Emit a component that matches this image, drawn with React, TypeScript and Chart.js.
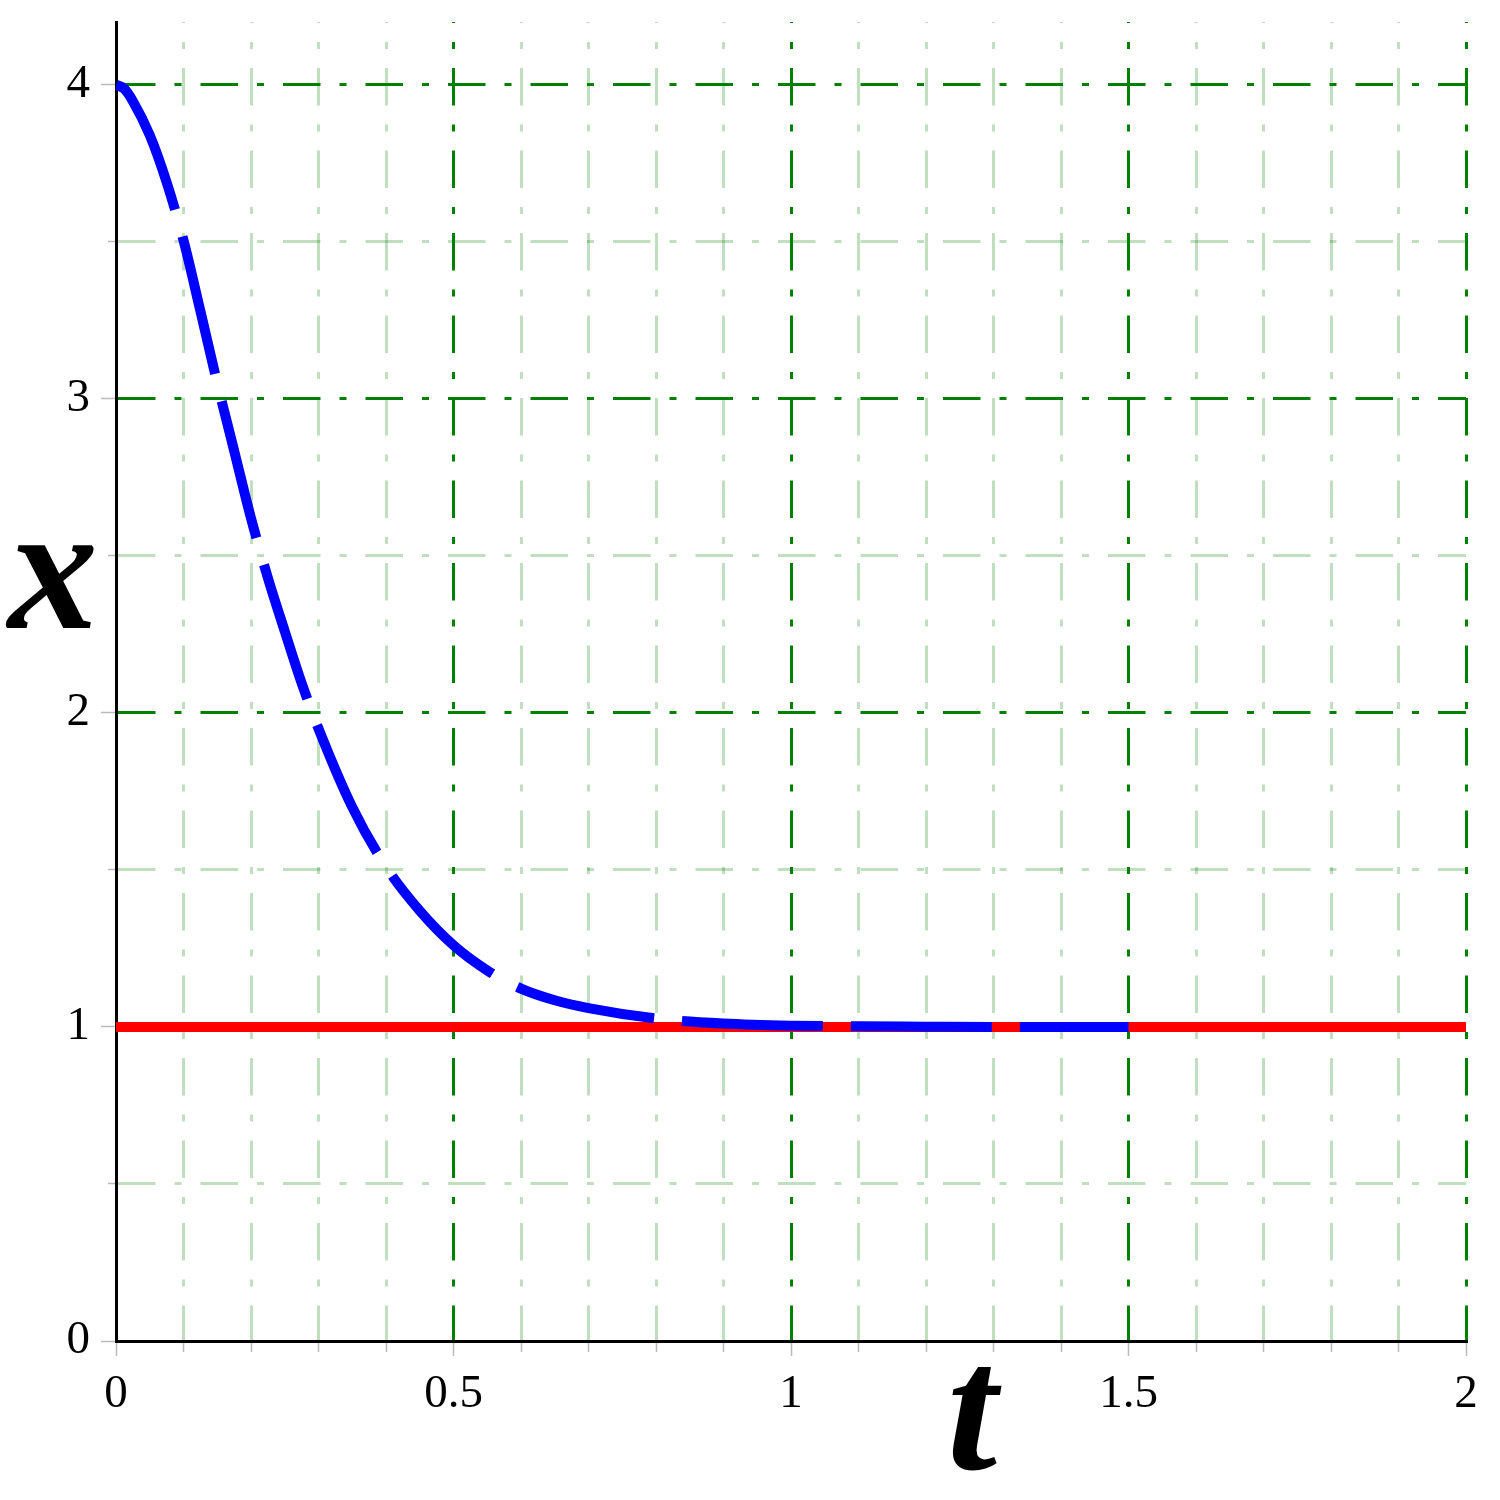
import React, { useEffect, useRef } from "react";
import { Chart, registerables } from "chart.js";

Chart.register(...registerables);

// ---- data ----
const tSolution = [0, 0.0125, 0.025, 0.05, 0.075, 0.1, 0.125, 0.15, 0.175, 0.2, 0.225, 0.25, 0.275, 0.3, 0.35, 0.4, 0.45, 0.5, 0.55, 0.6, 0.65, 0.7, 0.8, 0.9, 1.0, 1.1, 1.2, 1.3, 1.4, 1.5];
const xSolution = [4, 3.987, 3.948, 3.84, 3.69, 3.505, 3.28, 3.05, 2.835, 2.62, 2.43, 2.26, 2.095, 1.95, 1.7, 1.51, 1.37, 1.26, 1.18, 1.122, 1.085, 1.06, 1.027, 1.011, 1.004, 1.002, 1.001, 1.0, 1.0, 1.0];
const tEquilibrium = [0, 2];
const xEquilibrium = [1, 1];

const tMin = 0;
const tMax = 2;
const tMinorStep = 0.1;
const tMajorStep = 0.5;
const xMin = 0;
const xMax = 4.2;
const xMinorStep = 0.5;
const xMajorStep = 1;

const X_TITLE = "t";
const Y_TITLE = "x";

// ---- styles ----
const GREEN = "#008000";
const LIGHT_GREEN = "rgba(0,128,0,0.25)";
const GRID_DASH = [37.5, 19, 7, 19];
const TICK_GRAY = "#bbbbbb";
const FONT = '"Liberation Serif", "Times New Roman", serif';

const isMajor = (v: number, step: number) => Math.abs(v / step - Math.round(v / step)) < 1e-6;

const fmt = (v: number) => String(Math.round(v * 1000) / 1000);

const axisTitles = {
  id: "axisTitles",
  afterDraw(chart: any) {
    const { ctx, chartArea } = chart;
    ctx.save();
    ctx.font = `bold italic 180px ${FONT}`;
    ctx.fillStyle = "#000";
    ctx.textAlign = "center";
    ctx.textBaseline = "alphabetic";
    ctx.fillText(Y_TITLE, chartArea.left - 63, 628);
    ctx.fillText(X_TITLE, 972, chartArea.bottom + 128);
    ctx.restore();
  },
};

export default function App() {
  const ref = useRef<HTMLCanvasElement | null>(null);

  useEffect(() => {
    if (!ref.current) return;
    const chart = new Chart(ref.current, {
      type: "line",
      data: {
        datasets: [
          {
            label: "x(t)",
            data: tSolution.map((t, i) => ({ x: t, y: xSolution[i] })),
            borderColor: "#0000ff",
            borderWidth: 10,
            borderDash: [141, 28],
            borderCapStyle: "butt",
            pointRadius: 0,
            cubicInterpolationMode: "monotone",
            fill: false,
          },
          {
            label: "x = 1",
            data: tEquilibrium.map((t, i) => ({ x: t, y: xEquilibrium[i] })),
            borderColor: "#ff0000",
            borderWidth: 10,
            pointRadius: 0,
            fill: false,
          },
        ],
      },
      options: {
        animation: false,
        responsive: false,
        maintainAspectRatio: false,
        devicePixelRatio: 1,
        layout: { padding: { top: 22, right: 34, left: 0, bottom: 0 } },
        plugins: {
          legend: { display: false },
          tooltip: { enabled: false },
          title: { display: false },
        },
        scales: {
          x: {
            type: "linear",
            min: tMin,
            max: tMax,
            afterFit: (s: any) => {
              s.height = 159;
              s.paddingLeft = 0;
              s.paddingRight = 0;
              s.paddingTop = 0;
              s.paddingBottom = 0;
            },
            ticks: {
              stepSize: tMinorStep,
              autoSkip: false,
              maxRotation: 0,
              minRotation: 0,
              includeBounds: false,
              padding: 10,
              color: "#000",
              font: { family: FONT, size: 47 },
              callback: (v: any) => (isMajor(Number(v), tMajorStep) ? fmt(Number(v)) : ""),
            },
            grid: {
              color: (c: any) => (c.tick && isMajor(c.tick.value, tMajorStep) ? GREEN : LIGHT_GREEN),
              lineWidth: 3,
              drawTicks: true,
              tickLength: 15,
              tickColor: TICK_GRAY,
              tickWidth: 1.5,
              tickBorderDash: (c: any) => (c.tick && isMajor(c.tick.value, tMajorStep) ? [] : [9, 100]),
            },
            border: { display: true, color: "#000", width: 3, dash: GRID_DASH, dashOffset: 36.5 },
          },
          y: {
            type: "linear",
            min: xMin,
            max: xMax,
            afterFit: (s: any) => {
              s.width = 116;
              s.paddingLeft = 0;
              s.paddingRight = 0;
              s.paddingTop = 0;
              s.paddingBottom = 0;
            },
            ticks: {
              stepSize: xMinorStep,
              autoSkip: false,
              includeBounds: false,
              padding: 11,
              color: "#000",
              font: { family: FONT, size: 47 },
              callback: (v: any) => (isMajor(Number(v), xMajorStep) ? fmt(Number(v)) : ""),
            },
            grid: {
              color: (c: any) => (c.tick && isMajor(c.tick.value, xMajorStep) ? GREEN : LIGHT_GREEN),
              lineWidth: 3,
              drawTicks: true,
              tickLength: 15,
              tickColor: TICK_GRAY,
              tickWidth: 1.5,
              tickBorderDash: (c: any) => (c.tick && isMajor(c.tick.value, xMajorStep) ? [] : [0, 7, 20]),
            },
            border: { display: true, color: "#000", width: 3, dash: GRID_DASH, dashOffset: 0 },
          },
        },
      },
      plugins: [axisTitles],
    } as any);
    return () => chart.destroy();
  }, []);

  return (
    <div style={{ position: "absolute", left: 0, top: 0, width: 1500, height: 1500, background: "#fff" }}>
      <canvas ref={ref} width={1500} height={1500} style={{ width: 1500, height: 1500, display: "block" }} />
    </div>
  );
}
